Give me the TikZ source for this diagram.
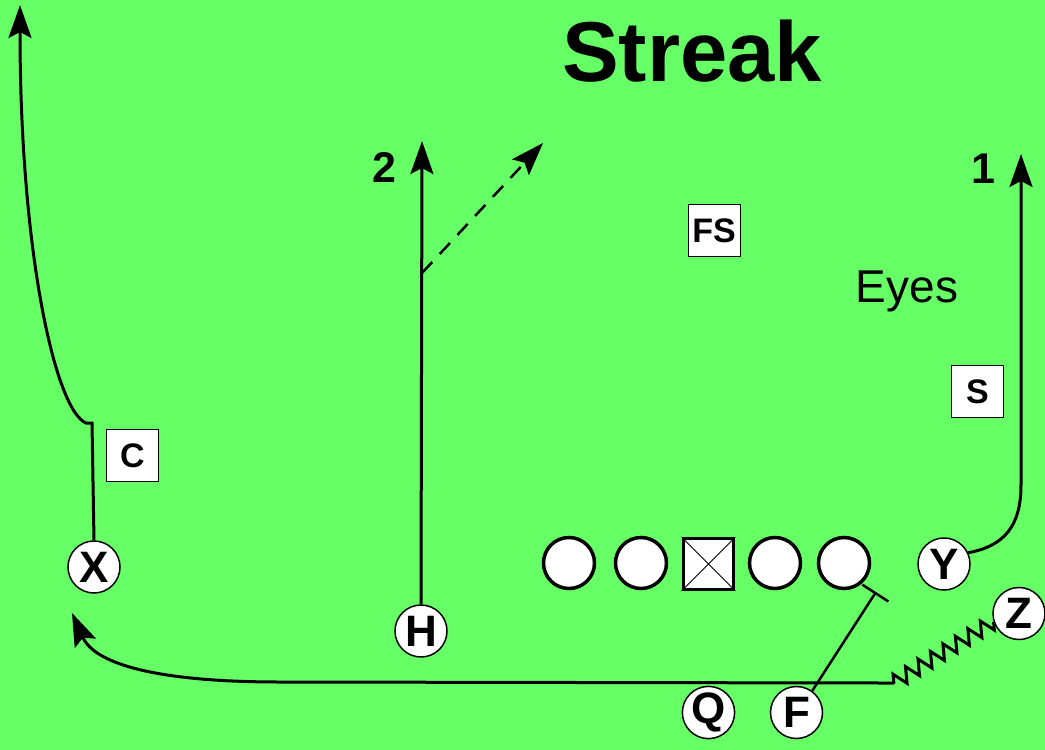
\documentclass[tikz,border=0pt]{standalone}
\usepackage{fontspec}
\setmainfont{Liberation Sans}
\usetikzlibrary{arrows.meta,decorations.pathmorphing}
\definecolor{field}{RGB}{102,255,102}

\tikzset{
  player/.style={circle,draw,fill=white,line width=1.5pt,minimum size=52pt,inner sep=0pt,
    font=\bfseries\fontsize{44}{44}\selectfont},
  defender/.style={rectangle,draw,fill=white,line width=1pt,minimum size=52pt,inner sep=0pt,
    font=\bfseries\fontsize{34}{34}\selectfont},
  lineman/.style={circle,draw,fill=white,line width=3.5pt,minimum size=51pt,inner sep=0pt},
  snapper/.style={rectangle,draw,fill=white,line width=3pt,minimum size=50.5pt,inner sep=0pt},
  route/.style={line width=3pt,-{Stealth[length=33pt,width=23pt,inset=6pt]}},
  option/.style={route,line width=2.5pt,dash pattern=on 15pt off 11pt},
  block/.style={line width=2.5pt,-{Bar[width=31pt,line width=2.5pt]}},
  motion/.style={decoration={zigzag,segment length=14.6pt,amplitude=7.5pt}},
  tag/.style={font=\bfseries\fontsize{43}{43}\selectfont,anchor=base}
}

\begin{document}
\begin{tikzpicture}[x=1pt,y=-1pt]
  \useasboundingbox (0,0) rectangle (1045,750);
  \fill[field] (0,0) rectangle (1045,750);

  % Title
  \node[anchor=base,font=\bfseries\fontsize{85}{85}\selectfont] (title) at (692,81) {Streak};

  % Offensive line
  \node[lineman] (lt) at (569,563) {};
  \node[lineman] (lg) at (641,563) {};
  \node[snapper] (ctr) at (708.5,564) {};
  \draw[line width=1pt] (ctr.north west) -- (ctr.south east) (ctr.north east) -- (ctr.south west);
  \node[lineman] (rg) at (775,563) {};
  \node[lineman] (rt) at (844,563) {};

  % Skill players
  \node[player] (X) at (94,567) {X};
  \node[player] (H) at (421,631) {H};
  \node[player] (Y) at (944,564) {Y};
  \node[player] (Z) at (1019,613.5) {Z};
  \node[player] (Q) at (708.5,712.5) {Q};
  \node[player] (F) at (796.5,712.5) {F};

  % Defense
  \node[defender] (C) at (132.5,455.5) {C};
  \node[defender] (FS) at (714,230.5) {FS};
  \node[defender] (S) at (977.5,391.5) {S};

  % Labels
  \node[tag] (two) at (384,182) {2};
  \node[tag] (one) at (983,183) {1};
  \node[anchor=base,font=\fontsize{46}{46}\selectfont] (eyes) at (907,302) {Eyes};

  % Route end points
  \coordinate (xtip) at (20,5);
  \coordinate (htip) at (422,141);
  \coordinate (brk) at (422,273);
  \coordinate (dtip) at (543,143);
  \coordinate (ytip) at (1021,154);
  \coordinate (qtip) at (72,613);
  \coordinate (zz) at (893,683);
  \coordinate (blk) at (876,592);

  % Routes
  \draw[route] (X.north) -- (92,423) -- (86,423) .. controls (55,410) and (20,250) .. (xtip);
  \draw[route] (H.north) -- (htip);
  \draw[option] (brk) -- (dtip);
  \draw[route] (Y.25) .. controls (1005,546) and (1021,525) .. (1021,485) -- (ytip);

  % Motion and block
  \draw[route] (Z.198) decorate[motion] {-- (zz)} -- (883,683) -- (280,682)
    .. controls (160,682) and (95,665) .. (qtip);
  \draw[block] (F.54) -- (blk);
\end{tikzpicture}
\end{document}
